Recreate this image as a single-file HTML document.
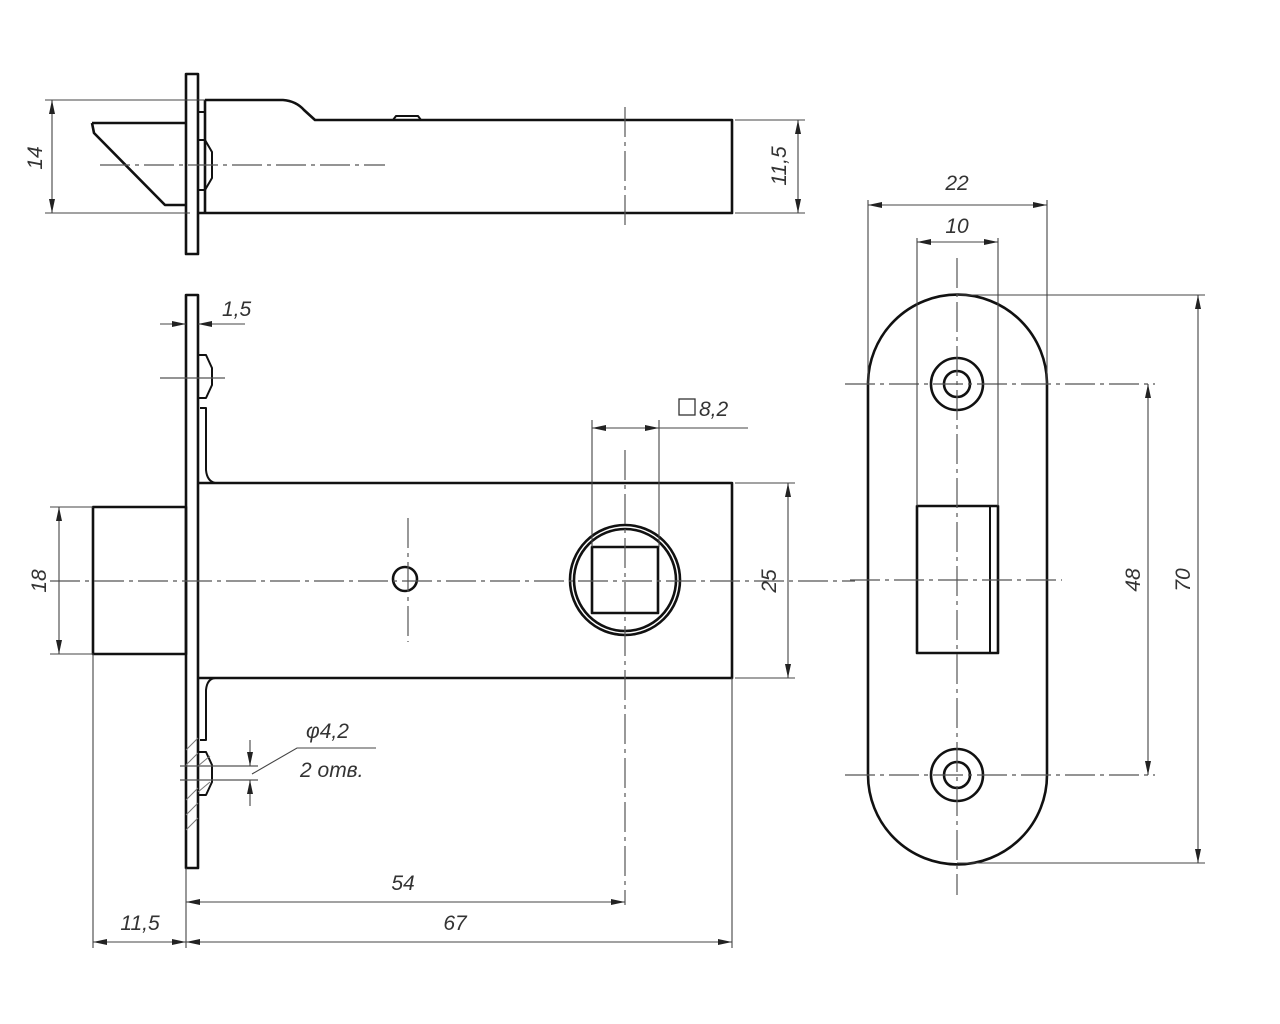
<!DOCTYPE html>
<html><head><meta charset="utf-8"><style>
html,body{margin:0;padding:0;background:#fff;}
svg{display:block}
text{font-family:"Liberation Sans",sans-serif;font-style:italic;font-size:21px;fill:#333;}
</style></head><body>
<svg width="1280" height="1024" viewBox="0 0 1280 1024" xmlns="http://www.w3.org/2000/svg">
<defs>
<marker id="a" viewBox="0 0 14 6" refX="14" refY="3" markerWidth="14" markerHeight="6" orient="auto-start-reverse" markerUnits="userSpaceOnUse"><path d="M0,0 L14,3 L0,6 Z" fill="#222"/></marker>
</defs>
<g fill="none" stroke="#111" stroke-width="2.6" stroke-linejoin="round">
<rect x="186" y="74" width="12" height="180"/>
<path d="M92,123 L186,123 M92,123 L94,133 L165,205 L186,205"/>
<path d="M205,100 L283,100 Q296,101 304,110 L315,120 L732,120 L732,213 L198,213"/>
<path d="M205,100 L205,213"/>
<path d="M198,112 L205,112 M198,140 L205,140 L212,152 L212,178 L205,190 L198,190" stroke-width="2"/>
<path d="M393,120 L396,116 L418,116 L421,120" stroke-width="2"/>
<rect x="186" y="295" width="12" height="573"/>
<rect x="93" y="507" width="93" height="147"/>
<path d="M198,483 L732,483 L732,678 L198,678"/>
<path d="M198,355 L206,355 L212,368 L212,385 L206,398 L198,398" stroke-width="2"/>
<path d="M198,752 L206,752 L212,765 L212,782 L206,795 L198,795" stroke-width="2"/>
<path d="M200,408 L206,408 L206,470 Q207,481 215,483" stroke-width="2"/>
<path d="M200,740 L206,740 L206,690 Q207,679 215,678" stroke-width="2"/>
<circle cx="405" cy="579" r="12"/>
<circle cx="625" cy="580" r="55"/>
<circle cx="625" cy="580" r="51"/>
<rect x="592" y="547" width="66" height="66"/>
<path d="M868,384 A89.5,89.5 0 0 1 1047,384 L1047,775 A89.5,89.5 0 0 1 868,775 Z"/>
<circle cx="957" cy="384" r="26"/><circle cx="957" cy="384" r="13"/>
<circle cx="957" cy="775" r="26"/><circle cx="957" cy="775" r="13"/>
<rect x="917" y="506" width="81" height="147"/>
<path d="M990,506 L990,653" stroke-width="2"/>
</g>
<g stroke="#777" stroke-width="1">
<path d="M186,750 L198,738 M186,765 L198,753 M186,800 L198,788 M186,815 L198,803 M186,830 L198,818 M198,766 L210,756 M198,792 L210,782"/>
</g>
<g stroke="#555" stroke-width="1.2" stroke-dasharray="30,5,4,5" fill="none">
<path d="M100,165 L385,165"/>
<path d="M625,107 L625,228"/>
<path d="M50,581 L855,581"/>
<path d="M408,518 L408,642"/>
<path d="M625,450 L625,905"/>
<path d="M957,258 L957,895"/>
<path d="M845,384 L1155,384"/>
<path d="M845,775 L1155,775"/>
<path d="M850,580 L1062,580"/>
<path d="M160,378 L225,378 M180,766 L258,766 M180,780 L258,780" stroke-dasharray="none"/>
</g>
<g stroke="#444" stroke-width="1.1" fill="none">
<path d="M45,100 L205,100 M45,213 L190,213"/>
<path d="M52,100 L52,213" marker-start="url(#a)" marker-end="url(#a)"/>
<path d="M735,120 L805,120 M735,213 L805,213"/>
<path d="M798,120 L798,213" marker-start="url(#a)" marker-end="url(#a)"/>
<path d="M160,324 L186,324" marker-end="url(#a)"/>
<path d="M245,324 L198,324" marker-end="url(#a)"/>
<path d="M592,420 L592,547 M659,420 L659,547"/>
<path d="M592,428 L659,428" marker-start="url(#a)" marker-end="url(#a)"/>
<path d="M659,428 L748,428"/>
<path d="M735,483 L795,483 M735,678 L795,678"/>
<path d="M788,483 L788,678" marker-start="url(#a)" marker-end="url(#a)"/>
<path d="M50,507 L93,507 M50,654 L93,654"/>
<path d="M59,507 L59,654" marker-start="url(#a)" marker-end="url(#a)"/>
<path d="M93,654 L93,948 M186,868 L186,948 M732,678 L732,948"/>
<path d="M186,902 L625,902" marker-start="url(#a)" marker-end="url(#a)"/>
<path d="M186,942 L732,942" marker-start="url(#a)" marker-end="url(#a)"/>
<path d="M93,942 L186,942" marker-start="url(#a)" marker-end="url(#a)"/>
<path d="M250,740 L250,766" marker-end="url(#a)"/>
<path d="M250,806 L250,780" marker-end="url(#a)"/>
<path d="M252,774 L297,748 L376,748"/>
<path d="M868,200 L868,384 M1047,200 L1047,384"/>
<path d="M868,205 L1047,205" marker-start="url(#a)" marker-end="url(#a)"/>
<path d="M917,238 L917,506 M998,238 L998,506"/>
<path d="M917,242 L998,242" marker-start="url(#a)" marker-end="url(#a)"/>
<path d="M1148,384 L1148,775" marker-start="url(#a)" marker-end="url(#a)"/>
<path d="M957,295 L1205,295 M957,863 L1205,863"/>
<path d="M1198,295 L1198,863" marker-start="url(#a)" marker-end="url(#a)"/>
</g>
<text transform="translate(42,158) rotate(-90)" text-anchor="middle">14</text>
<text transform="translate(786,166) rotate(-90)" text-anchor="middle">11,5</text>
<text x="222" y="316">1,5</text>
<rect x="679" y="399" width="16" height="16" fill="none" stroke="#333" stroke-width="1.3"/>
<text x="699" y="416">8,2</text>
<text transform="translate(776,581) rotate(-90)" text-anchor="middle">25</text>
<text transform="translate(46,581) rotate(-90)" text-anchor="middle">18</text>
<text x="403" y="890" text-anchor="middle">54</text>
<text x="455" y="930" text-anchor="middle">67</text>
<text x="140" y="930" text-anchor="middle">11,5</text>
<text x="306" y="738">φ4,2</text>
<text x="300" y="777">2 отв.</text>
<text x="957" y="190" text-anchor="middle">22</text>
<text x="957" y="233" text-anchor="middle">10</text>
<text transform="translate(1140,580) rotate(-90)" text-anchor="middle">48</text>
<text transform="translate(1190,580) rotate(-90)" text-anchor="middle">70</text>
</svg>
</body></html>
